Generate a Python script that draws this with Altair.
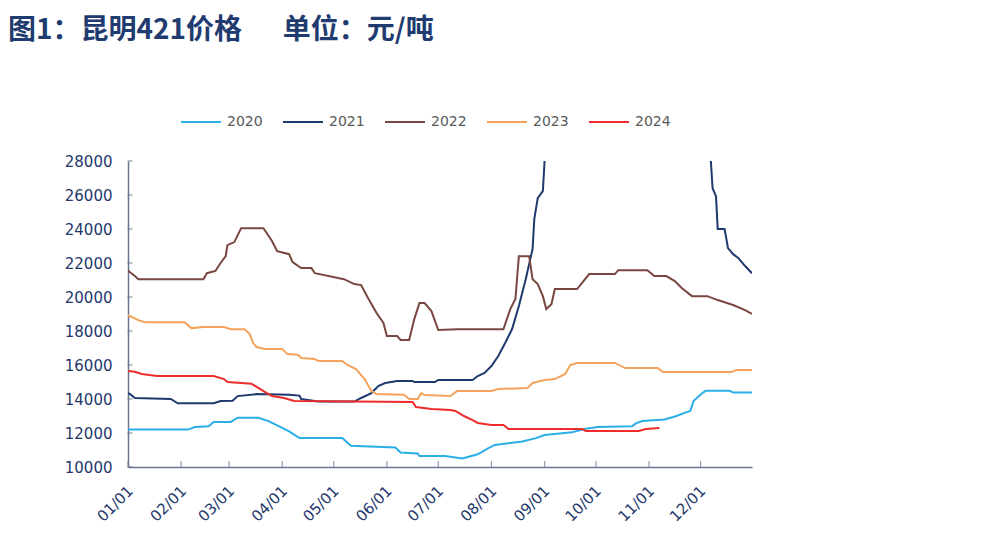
import altair as alt
import pandas as pd

years = ["2020", "2021", "2022", "2023", "2024"]
colors = ["#2aaee6", "#1f3a6e", "#7a4640", "#f5a35c", "#ee2c2c"]

d2020 = ["01-01", "02-05", "02-09", "02-17", "02-20", "03-02", "03-06", "03-18", "03-24", "03-29",
         "04-05", "04-11", "05-06", "05-11", "06-06", "06-09", "06-19", "06-20", "07-05", "07-15",
         "07-24", "07-30", "08-03", "08-19", "08-27", "09-01", "09-17", "09-25", "10-02", "10-22",
         "10-24", "10-28", "11-10", "11-17", "11-22", "11-25", "11-27", "12-02", "12-04", "12-18",
         "12-20", "12-31"]
v2020 = [12200, 12200, 12350, 12400, 12650, 12650, 12900, 12900, 12700, 12450,
         12100, 11700, 11700, 11250, 11150, 10850, 10800, 10650, 10650, 10500,
         10750, 11100, 11300, 11500, 11700, 11880, 12050, 12250, 12350, 12400,
         12550, 12700, 12800, 13000, 13200, 13300, 13900, 14350, 14480, 14480,
         14380, 14380]

d2021 = ["01-01", "01-02", "01-05", "01-26", "01-30", "02-20", "02-24", "03-03", "03-06", "03-17",
         "04-05", "04-11", "04-12", "04-22", "05-13", "05-17", "05-23", "05-27", "05-31", "06-07",
         "06-16", "06-17", "06-29", "07-01", "07-21", "07-24", "07-28", "08-01", "08-05", "08-09",
         "08-13", "08-17", "08-21", "08-25", "08-26", "08-28", "08-31", "09-01", "09-04", "09-20",
         "10-15", "11-10", "12-01", "12-06", "12-07", "12-08", "12-10", "12-11", "12-15", "12-17",
         "12-20", "12-23", "12-27", "12-31"]
v2021 = [14350, 14300, 14060, 14000, 13750, 13750, 13880, 13900, 14170, 14290,
         14250, 14200, 14000, 13850, 13850, 14060, 14350, 14760, 14940, 15060,
         15060, 15000, 15000, 15120, 15120, 15350, 15530, 15940, 16530, 17290,
         18100, 19470, 21050, 22820, 24580, 25820, 26230, 28000, 31000, 45000,
         60000, 50000, 38000, 30000, 28000, 26400, 25930, 24000, 24000, 22880,
         22520, 22290, 21820, 21400]

d2022 = ["01-01", "01-02", "01-05", "01-07", "02-14", "02-16", "02-21", "02-24", "02-27", "02-28",
         "03-04", "03-08", "03-21", "03-26", "03-29", "04-05", "04-07", "04-12", "04-18", "04-20",
         "05-07", "05-13", "05-17", "05-21", "05-26", "05-30", "06-01", "06-07", "06-09", "06-14",
         "06-17", "06-20", "06-23", "06-27", "07-01", "07-12", "08-08", "08-12", "08-15", "08-17",
         "08-23", "08-25", "08-28", "08-31", "09-02", "09-05", "09-07", "09-20", "09-27", "10-12",
         "10-14", "10-31", "11-04", "11-11", "11-16", "11-20", "11-26", "12-05", "12-11", "12-20",
         "12-27", "12-31"]
v2022 = [21550, 21470, 21230, 21050, 21050, 21400, 21530, 22000, 22410, 23050,
         23230, 24050, 24050, 23290, 22700, 22520, 22050, 21700, 21700, 21400,
         21050, 20760, 20700, 19940, 19060, 18470, 17700, 17700, 17470, 17470,
         18700, 19640, 19640, 19170, 18060, 18100, 18100, 19290, 19880, 22400,
         22400, 21050, 20760, 20050, 19290, 19580, 20470, 20470, 21350, 21350,
         21580, 21580, 21230, 21230, 20940, 20530, 20050, 20050, 19820, 19530,
         19230, 19000]

d2023 = ["01-01", "01-07", "01-11", "02-03", "02-07", "02-14", "02-26", "03-02", "03-10", "03-13",
         "03-15", "03-17", "03-22", "04-01", "04-04", "04-10", "04-12", "04-20", "04-22", "05-06",
         "05-09", "05-14", "05-19", "05-23", "05-26", "06-11", "06-14", "06-19", "06-21", "06-23",
         "07-08", "07-12", "08-01", "08-05", "08-22", "08-25", "09-01", "09-07", "09-13", "09-16",
         "09-20", "10-12", "10-18", "11-06", "11-09", "12-19", "12-22", "12-31"]
v2023 = [18940, 18640, 18520, 18520, 18170, 18230, 18230, 18110, 18100, 17820,
         17290, 17060, 16940, 16940, 16640, 16600, 16410, 16350, 16230, 16230,
         16000, 15760, 15170, 14470, 14290, 14250, 14000, 14000, 14350, 14230,
         14170, 14470, 14470, 14590, 14650, 14940, 15120, 15170, 15470, 16000,
         16120, 16120, 15820, 15820, 15590, 15590, 15700, 15700]

d2024 = ["01-01", "01-05", "01-09", "01-18", "02-20", "02-26", "02-28", "03-08", "03-14", "03-18",
         "03-22", "03-26", "04-02", "04-08", "06-16", "06-18", "06-27", "07-08", "07-11", "07-16",
         "07-21", "07-24", "08-01", "08-08", "08-11", "09-23", "09-25", "10-26", "10-30", "11-07"]
v2024 = [15640, 15600, 15470, 15350, 15350, 15170, 15000, 14940, 14900, 14650,
         14410, 14170, 14060, 13880, 13830, 13530, 13410, 13350, 13300, 13000,
         12760, 12590, 12470, 12470, 12230, 12230, 12120, 12120, 12230, 12290]

month_labels = ["01/01", "02/01", "03/01", "04/01", "05/01", "06/01",
                "07/01", "08/01", "09/01", "10/01", "11/01", "12/01"]
y_ticks = [10000, 12000, 14000, 16000, 18000, 20000, 22000, 24000, 26000, 28000]

rows = []
for yr, ds, vs in zip(years, [d2020, d2021, d2022, d2023, d2024],
                      [v2020, v2021, v2022, v2023, v2024]):
    for d, v in zip(ds, vs):
        rows.append({"year": yr, "date": "2021-" + d + "T00:00:00Z", "price": v})
df = pd.DataFrame(rows)

tick_dates = [alt.DateTime(year=2021, month=i + 1, date=1, utc=True) for i in range(12)]
month_df = pd.DataFrame({"date": ["2021-%02d-01T00:00:00Z" % (i + 1) for i in range(12)]})
ytick_df = pd.DataFrame({"price": y_ticks})

NAVY = "#24386b"
AXIS = "#6a7490"
FONT = "DejaVu Sans"

xscale = alt.Scale(type="utc",
                   domain=[alt.DateTime(year=2021, month=1, date=1, utc=True),
                           alt.DateTime(year=2021, month=12, date=31, utc=True)])
yscale = alt.Scale(domain=[10000, 28000], nice=False, zero=False)

xaxis = alt.Axis(values=tick_dates, format="%m/%d", labelAngle=-45,
                 ticks=False, domainColor=AXIS, domainWidth=1.5,
                 labelColor=NAVY, labelFont=FONT, labelFontSize=15,
                 labelPadding=16, labelOffset=-3, grid=False,
                 labelOverlap=False, title=None)
yaxis = alt.Axis(values=y_ticks, format="d", ticks=False,
                 domainColor=AXIS, domainWidth=1.5,
                 labelColor=NAVY, labelFont=FONT, labelFontSize=15,
                 labelPadding=16, grid=False, labelOverlap=False, title=None)

lines = alt.Chart(df).mark_line(strokeWidth=2, clip=True).encode(
    x=alt.X("date:T", scale=xscale, axis=xaxis, title=None),
    y=alt.Y("price:Q", scale=yscale, axis=yaxis, title=None),
    color=alt.Color("year:N",
                    scale=alt.Scale(domain=years, range=colors),
                    legend=alt.Legend(title=None, orient="none", direction="horizontal",
                                      legendX=52, legendY=-60,
                                      symbolType="stroke", symbolSize=1600,
                                      symbolStrokeWidth=2, labelFont=FONT,
                                      labelFontSize=14, labelColor="#595959",
                                      labelOffset=5, columnPadding=16)),
    detail="year:N",
)

xticks = alt.Chart(month_df).mark_tick(orient="vertical", size=6, thickness=1.2,
                                       color=AXIS, yOffset=-3).encode(
    x=alt.X("date:T", scale=xscale, axis=xaxis, title=None),
    y=alt.Y(datum=10000, scale=yscale, axis=yaxis, title=None),
)

yticks = alt.Chart(ytick_df).mark_tick(orient="horizontal", size=5, thickness=1.2,
                                       color=AXIS, xOffset=2).encode(
    x=alt.X(datum=alt.DateTime(year=2021, month=1, date=1, utc=True), type="temporal",
            scale=xscale, axis=xaxis, title=None),
    y=alt.Y("price:Q", scale=yscale, axis=yaxis, title=None),
)

chart = alt.layer(lines, xticks, yticks).properties(
    width=624, height=306,
    padding={"left": 0, "top": 9, "right": 5, "bottom": 5},
    title=alt.TitleParams("图1：昆明421价格\u3000\u00a0\u00a0单位：元/吨", anchor="start",
                          frame="group", dx=-120,
                          fontSize=28, font="Noto Sans CJK SC", fontWeight="bold",
                          color="#1f3b6f", offset=56),
).configure(background="white", view=alt.ViewConfig(stroke=None))

chart.save("out.html", embed_options={"renderer": "svg", "actions": False})
